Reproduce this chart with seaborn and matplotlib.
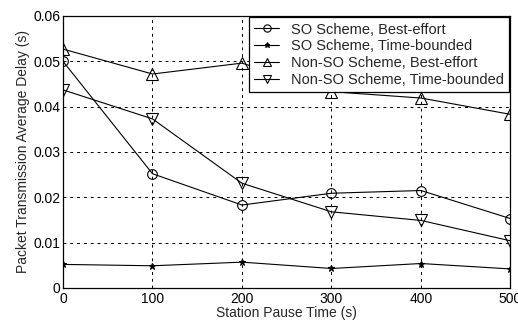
import matplotlib
matplotlib.use("Agg")
import matplotlib.pyplot as plt
import seaborn as sns
import pandas as pd
from matplotlib.ticker import FixedLocator

pause_time = [0, 100, 200, 300, 400, 500]
so_best = [0.0500, 0.0252, 0.0183, 0.0209, 0.0215, 0.0153]
so_time = [0.0052, 0.0049, 0.0057, 0.0043, 0.0054, 0.0042]
nonso_best = [0.0527, 0.0472, 0.0496, 0.0433, 0.0419, 0.0383]
nonso_time = [0.0437, 0.0373, 0.0231, 0.0168, 0.0149, 0.0104]
series_names = ["SO Scheme, Best-effort", "SO Scheme, Time-bounded",
                "Non-SO Scheme, Best-effort", "Non-SO Scheme, Time-bounded"]
x_ticks = [0, 100, 200, 300, 400, 500]
y_ticks = [0, 0.01, 0.02, 0.03, 0.04, 0.05, 0.06]
y_tick_labels = ["0", "0.01", "0.02", "0.03", "0.04", "0.05", "0.06"]

sns.set_style("white")
plt.rcParams['font.family'] = ['Liberation Sans', 'DejaVu Sans']

fig = plt.figure(figsize=(5.18, 3.26), dpi=100)
ax = fig.add_axes([0.1216, 0.1166, 0.8639, 0.8344])

markers = ["o", "*", "^", "v"]
msizes = [7, 5, 8, 8]
for name, vals, m, ms in zip(series_names, [so_best, so_time, nonso_best, nonso_time], markers, msizes):
    df = pd.DataFrame({"x": pause_time, "y": vals})
    sns.lineplot(data=df, x="x", y="y", ax=ax, color="black", linewidth=0.8,
                 marker=m, markersize=ms, markerfacecolor="none" if m != "*" else "black",
                 markeredgecolor="black", markeredgewidth=0.8, label=name)

ax.set_xlim(0, 500)
ax.set_ylim(0, 0.06)
ax.xaxis.set_major_locator(FixedLocator(x_ticks))
ax.set_xticklabels([str(v) for v in x_ticks])
ax.yaxis.set_major_locator(FixedLocator(y_ticks))
ax.set_yticklabels(y_tick_labels)
ax.grid(True, color="black", linestyle=(0, (3, 4)), linewidth=0.7)
ax.tick_params(direction="in", length=3, labelsize=10, colors="black", width=0.8)
ax.tick_params(axis="x", pad=3)
ax.tick_params(axis="y", pad=2)
for s in ax.spines.values():
    s.set_color("black")
    s.set_linewidth(0.9)
ax.set_xlabel("Station Pause Time (s)", fontsize=10, labelpad=0)
ax.set_ylabel("Packet Transmission Average Delay (s)", fontsize=10, labelpad=2)

leg = ax.legend(loc="upper right", fontsize=10.5, frameon=True, fancybox=False,
                edgecolor="black", borderaxespad=0.1, handlelength=1.7,
                borderpad=0.35, labelspacing=0.2, handletextpad=0.8, markerscale=0.75)
leg.get_frame().set_linewidth(0.9)
leg.get_frame().set_alpha(1)

fig.savefig("out.png", dpi=100)
